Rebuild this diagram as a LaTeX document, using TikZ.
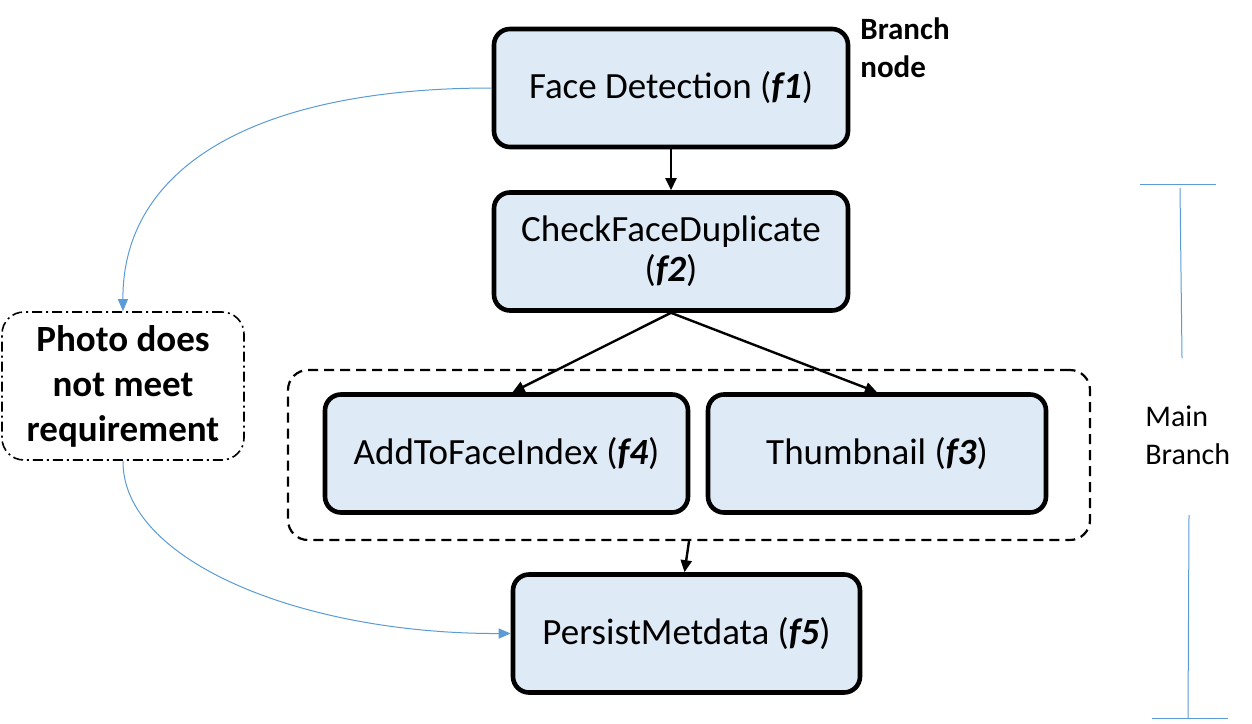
\documentclass[tikz,border=0pt]{standalone}
\usepackage{fontspec}
\setmainfont{Carlito}
\usetikzlibrary{arrows.meta}

\definecolor{boxblue}{HTML}{DEEAF6}
\definecolor{lineblue}{HTML}{5B9BD5}
\newcommand{\fn}[1]{\textbf{\textit{#1}}}

\tikzset{
  fbox/.style={draw,line width=2.3pt,rounded corners=8pt,fill=boxblue,
    minimum height=59pt,align=center,inner sep=2pt,
    font=\fontsize{18.5}{20}\selectfont},
  flow/.style={-{Triangle[length=6pt,width=5.5pt]},line width=1.2pt},
  side/.style={-{Triangle[length=6pt,width=5pt]},line width=0.5pt,draw=lineblue},
  tick/.style={line width=0.5pt,draw=lineblue},
}

\begin{document}
\begin{tikzpicture}[x=0.5pt,y=-0.5pt]
  \useasboundingbox (0,0) rectangle (1252,723);
  % function boxes
  \node[fbox,minimum width=177pt] (f1) at (671,88) {Face Detection (\fn{f1})};
  \node[fbox,minimum width=177pt] (f2) at (671,251.5) {CheckFaceDuplicate\\(\fn{f2})};
  \node[fbox,minimum width=181.5pt] (f4) at (506.5,453.5) {AddToFaceIndex (\fn{f4})};
  \node[fbox,minimum width=169pt] (f3) at (877,453.5) {Thumbnail (\fn{f3})};
  \node[fbox,minimum width=173.5pt] (f5) at (686.5,633.5) {PersistMetdata (\fn{f5})};
  % parallel group
  \node[draw,line width=1.1pt,rounded corners=10pt,dash pattern=on 5pt off 3pt,
    minimum width=401pt,minimum height=85pt] (grp) at (689,455) {};
  % failure box
  \node[draw,line width=0.8pt,rounded corners=11pt,dash pattern=on 5pt off 2pt on 1pt off 2pt,
    minimum width=121pt,minimum height=74pt,align=center,
    font=\fontsize{18.5}{22.5}\selectfont\bfseries] (fail) at (123,386) {Photo does\\not meet\\requirement};
  % labels
  \node[align=left,anchor=north west,inner sep=0pt,font=\fontsize{15.5}{19}\selectfont\bfseries]
    (brn) at (860,17) {Branch\\node};
  \node[align=left,anchor=north west,inner sep=0pt,font=\fontsize{15}{19}\selectfont]
    (mbr) at (1145,405) {Main\\Branch};
  % main flow
  \draw[flow] (f1) -- (f2);
  \draw[flow] (f2.south) -- ([xshift=3pt]f4.north);
  \draw[flow] (f2.south) -- (f3.north);
  \draw[flow] (grp.south) -- ([xshift=-1pt]f5.north);
  % branch to failure
  \draw[side] (f1.west) .. controls (250,88) and (122,170) .. (fail.north);
  \draw[side] (fail.south) .. controls (122,560) and (300,634) .. (f5.west);
  % main branch bracket
  \draw[tick] (1140,184) -- (1216,184);
  \draw[tick] (1180,188) -- (1182,358);
  \draw[tick] (1189,515) -- (1188,718);
  \draw[tick] (1152,718) -- (1228,718);
\end{tikzpicture}
\end{document}
